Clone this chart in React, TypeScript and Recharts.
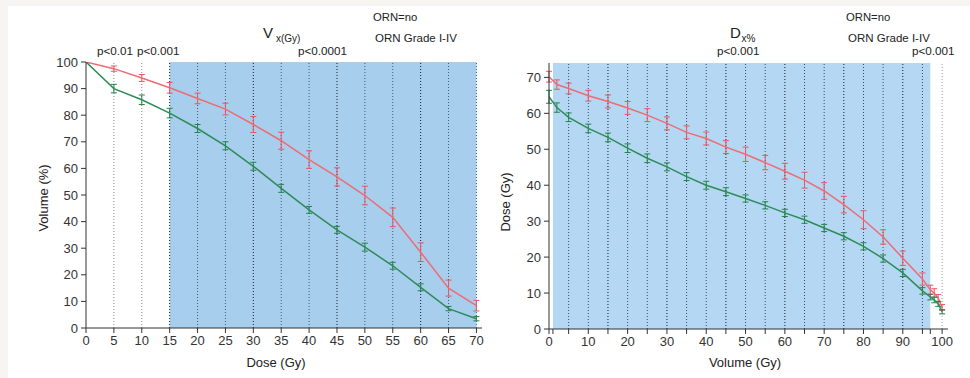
import React from 'react';
import { LineChart, Line, XAxis, YAxis, ErrorBar, ReferenceArea, ReferenceLine } from 'recharts';

// left panel: V_x(Gy), volume (%) receiving a given dose
const doseGy = [0, 5, 10, 15, 20, 25, 30, 35, 40, 45, 50, 55, 60, 65, 70];
const vxOrnGrade = [100, 97.5, 94, 90.3, 86.3, 82.3, 76.5, 70.4, 63.3, 56.8, 49.8, 41.6, 28.5, 15, 8.4];
const vxOrnGradeErr = [0, 1, 1.3, 2, 2, 2.2, 3, 3.2, 3.3, 3.4, 3.5, 3.5, 3.5, 3, 2];
const vxOrnNo = [100, 90, 85.8, 80.8, 75, 68.5, 60.8, 52.5, 44.4, 36.9, 30.4, 23.4, 15.3, 7.3, 3.5];
const vxOrnNoErr = [0, 1.6, 1.8, 1.8, 1.5, 1.5, 1.5, 1.5, 1.3, 1.3, 1.5, 1.3, 1.3, 0.8, 0.8];
const doseTicks = [0, 5, 10, 15, 20, 25, 30, 35, 40, 45, 50, 55, 60, 65, 70];
const volumePctTicks = [0, 10, 20, 30, 40, 50, 60, 70, 80, 90, 100];

// right panel: D_x%, dose (Gy) to a given volume
const volumePct = [0, 2, 5, 10, 15, 20, 25, 30, 35, 40, 45, 50, 55, 60, 65, 70, 75, 80, 85, 90, 95, 97, 98, 99, 100];
const dxOrnGrade = [70.2, 68, 66.9, 64.9, 63.3, 61.5, 59.5, 57.2, 54.7, 53, 50.6, 48.6, 46.3, 43.9, 41.4, 38.4, 34.6, 30.4, 25.6, 19.7, 13.9, 10.9, 10, 8.6, 6];
const dxOrnGradeErr = [1.5, 1.3, 1.5, 1.5, 1.8, 1.8, 1.8, 1.8, 1.8, 1.8, 1.8, 2, 2, 2.2, 2.2, 2.3, 2.3, 2.5, 2, 2, 1.7, 1.3, 1.2, 1, 0.8];
const dxOrnNo = [64.6, 61.6, 58.9, 55.8, 53.3, 50.3, 47.5, 45.1, 42.4, 40, 38.2, 36.3, 34.4, 32.3, 30.4, 28.1, 25.8, 23, 19.6, 15.6, 10.6, 8.9, 8.1, 7, 4.8];
const dxOrnNoErr = [1.8, 1.3, 1.2, 1.2, 1.2, 1.2, 1.2, 1.1, 1.1, 1.1, 1.1, 1, 1, 1, 1, 1, 1, 1, 1, 1, 0.9, 0.8, 0.8, 0.7, 0.6];
const volumeTicks = [0, 1, 5, 10, 15, 20, 25, 30, 35, 40, 45, 50, 55, 60, 65, 70, 75, 80, 85, 90, 95, 97, 100];
const doseGyTicks = [0, 10, 20, 30, 40, 50, 60, 70];

const leftData = doseGy.map((d, i) => ({
  x: d,
  grade: vxOrnGrade[i],
  gradeErr: vxOrnGradeErr[i],
  no: vxOrnNo[i],
  noErr: vxOrnNoErr[i],
}));

const rightData = volumePct.map((v, i) => ({
  x: v,
  grade: dxOrnGrade[i],
  gradeErr: dxOrnGradeErr[i],
  no: dxOrnNo[i],
  noErr: dxOrnNoErr[i],
}));

const RED = '#ef6b74';
const RED_BAR = '#e85562';
const GREEN = '#2e8b57';
const GREEN_BAR = '#23834c';
const FONT = '"Liberation Sans", Arial, sans-serif';
const tickStyle = { fontSize: 13, fill: '#333', fontFamily: FONT };

const leftGuides = [5, 10, 15, 20, 25, 30, 35, 40, 45, 50, 55, 60, 65, 70];
const rightGuides = [5, 10, 15, 20, 25, 30, 35, 40, 45, 50, 55, 60, 65, 70, 75, 80, 85, 90, 95, 100];

const LeftChart = () => (
  <LineChart width={490} height={378} data={leftData} margin={{ top: 62, right: 8, bottom: 20, left: 46 }}>
    <ReferenceArea x1={15} x2={70} fill="#a8ceee" fillOpacity={1} stroke="none" />
    {leftGuides.map((g) => (
      <ReferenceLine
        key={g}
        x={g}
        stroke={g < 15 ? '#888' : g % 15 === 0 ? '#1a1a2a' : '#4a5a6a'}
        strokeDasharray="1 2"
      />
    ))}
    <XAxis dataKey="x" type="number" domain={[0, 71]} ticks={doseTicks} interval={0} allowDataOverflow
      height={30} tickSize={5} tickMargin={3} tick={tickStyle} stroke="#333" />
    <XAxis xAxisId="top" orientation="top" type="number" domain={[0, 71]} ticks={doseTicks} interval={0}
      allowDataOverflow height={0} tickSize={4} tickFormatter={() => ''} stroke="#333" />
    <YAxis type="number" domain={[0, 100]} ticks={volumePctTicks} interval={0} allowDataOverflow width={40}
      tickSize={5} tickMargin={3} tick={tickStyle} stroke="#333" />
    <Line dataKey="grade" stroke={RED} strokeWidth={1.5} dot={false} isAnimationActive={false}>
      <ErrorBar dataKey="gradeErr" direction="y" width={3} stroke={RED_BAR} strokeWidth={1} />
    </Line>
    <Line dataKey="no" stroke={GREEN} strokeWidth={1.5} dot={false} isAnimationActive={false}>
      <ErrorBar dataKey="noErr" direction="y" width={3} stroke={GREEN_BAR} strokeWidth={1} />
    </Line>
  </LineChart>
);

const RightChart = () => (
  <LineChart width={490} height={378} data={rightData} margin={{ top: 63, right: 22, bottom: 19, left: 29 }}>
    <ReferenceArea x1={1} x2={97} fill="#b4d8f3" fillOpacity={1} stroke="none" />
    {rightGuides.map((g) => (
      <ReferenceLine
        key={g}
        x={g}
        stroke={g > 97 ? '#999' : g % 15 === 0 ? '#1a1a2a' : '#3d4a5a'}
        strokeDasharray="1 2"
      />
    ))}
    <XAxis dataKey="x" type="number" domain={[0, 101.5]} ticks={volumeTicks} interval={0} allowDataOverflow
      height={30} tickSize={5} tickMargin={3} tick={tickStyle} stroke="#333"
      tickFormatter={(v: number) => (v % 10 === 0 ? String(v) : '')} />
    <XAxis xAxisId="top" orientation="top" type="number" domain={[0, 101.5]} ticks={volumeTicks} interval={0}
      allowDataOverflow height={0} tickSize={4} tickFormatter={() => ''} stroke="#333" />
    <YAxis type="number" domain={[0, 74]} ticks={doseGyTicks} interval={0} allowDataOverflow width={40}
      tickSize={5} tickMargin={3} tick={tickStyle} stroke="#333" />
    <Line dataKey="grade" stroke={RED} strokeWidth={1.5} dot={false} isAnimationActive={false}>
      <ErrorBar dataKey="gradeErr" direction="y" width={3} stroke={RED_BAR} strokeWidth={1} />
    </Line>
    <Line dataKey="no" stroke={GREEN} strokeWidth={1.5} dot={false} isAnimationActive={false}>
      <ErrorBar dataKey="noErr" direction="y" width={3} stroke={GREEN_BAR} strokeWidth={1} />
    </Line>
  </LineChart>
);

const Annotations = () => (
  <svg width={970} height={378} style={{ position: 'absolute', left: 0, top: 0, pointerEvents: 'none' }}
    fontFamily={FONT} fill="#222">
    {/* left panel */}
    <text x={97} y={55} fontSize={11.7}>p&lt;0.01</text>
    <text x={137} y={55} fontSize={11.7}>p&lt;0.001</text>
    <text x={263} y={38} fontSize={15}>V</text>
    <text x={276} y={42} fontSize={10}>x(Gy)</text>
    <text x={298} y={55} fontSize={11.7}>p&lt;0.0001</text>
    <text x={373} y={21} fontSize={11.3}>ORN=no</text>
    <text x={375} y={42} fontSize={11.5}>ORN Grade I-IV</text>
    <text transform="translate(48,198) rotate(-90)" textAnchor="middle" fontSize={13}>Volume (%)</text>
    <text x={276} y={367} textAnchor="middle" fontSize={13}>Dose (Gy)</text>
    {/* right panel */}
    <text x={730} y={38} fontSize={15}>D</text>
    <text x={741.5} y={42} fontSize={10}>x%</text>
    <text x={717} y={55} fontSize={11.7}>p&lt;0.001</text>
    <text x={846} y={21} fontSize={11.3}>ORN=no</text>
    <text x={848} y={42} fontSize={11.5}>ORN Grade I-IV</text>
    <text x={912} y={55} fontSize={11.7}>p&lt;0.001</text>
    <text transform="translate(510,202) rotate(-90)" textAnchor="middle" fontSize={13}>Dose (Gy)</text>
    <text x={745} y={367} textAnchor="middle" fontSize={13}>Volume (Gy)</text>
  </svg>
);

export default function App() {
  return (
    <div style={{ position: 'absolute', left: 0, top: 0, width: 970, height: 378, background: '#f6f5f1', overflow: 'hidden' }}>
      <div style={{ position: 'absolute', left: 8, top: 6, width: 962, height: 372, background: '#fff' }} />
      <div style={{ position: 'absolute', left: 0, top: 0 }}>
        <LeftChart />
      </div>
      <div style={{ position: 'absolute', left: 480, top: 0 }}>
        <RightChart />
      </div>
      <Annotations />
    </div>
  );
}
